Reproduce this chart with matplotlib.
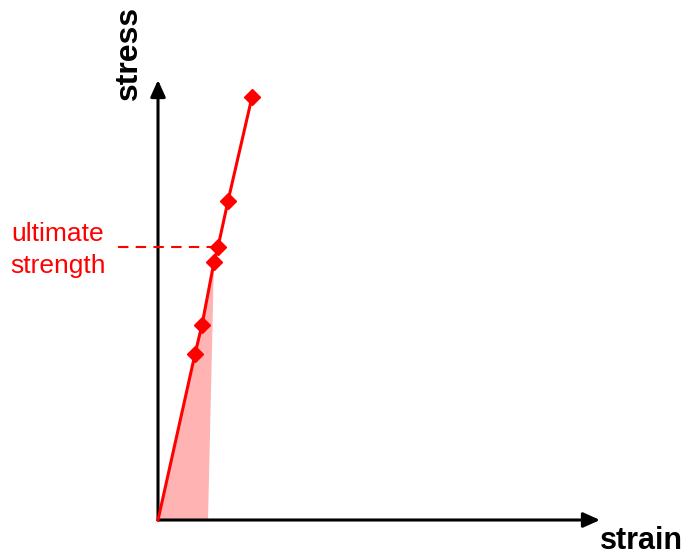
import matplotlib.pyplot as plt

plt.rcParams['font.family'] = ['Liberation Sans', 'DejaVu Sans']

# stress-strain curve (strain in %, stress in MPa)
strain = [0, 3.7, 4.4, 5.6, 6.0, 7.0, 9.4]
stress = [0, 166, 195, 258, 273, 319, 423]
marked = slice(1, None)
ultimate_idx = 4
fill_end = 5.0

fig = plt.figure(figsize=(6.89, 5.55), dpi=100)
ax = fig.add_axes([0, 0, 1, 1])
ax.set_xlim(-15.8, 53.1)
ax.set_ylim(-35, 520)
ax.axis('off')

# shaded area under initial part
ax.fill([strain[0], strain[3], fill_end], [stress[0], stress[3], 0],
        color='#ffb3b3', lw=0, zorder=1)

# axes arrows
arrow = dict(arrowstyle='-|>,head_length=1.0,head_width=0.45', lw=2.2,
             color='black', shrinkA=0, shrinkB=0)
ax.annotate('', xy=(44.2, 0), xytext=(0, 0), arrowprops=arrow, zorder=2)
ax.annotate('', xy=(0, 440), xytext=(0, 0), arrowprops=arrow, zorder=2)

ax.plot(strain, stress, color='red', lw=2.2, zorder=3)
ax.plot(strain[marked], stress[marked], ls='none', marker='D',
        ms=8.5, color='red', zorder=4)

# ultimate strength marker line
ax.plot([-4.0, strain[ultimate_idx]], [stress[ultimate_idx]] * 2,
        color='red', lw=1.5, ls=(0, (5, 3.5)), zorder=2)
ax.text(-10.0, 270, 'ultimate\nstrength', color='red',
        fontsize=19, ha='center', va='center', linespacing=1.4)

ax.text(44.2, -29, 'strain', fontsize=22, fontweight='bold',
        ha='left', va='baseline')
ax.text(-2.9, 467, 'stress', fontsize=23, fontweight='bold',
        rotation=90, ha='center', va='center')

fig.savefig('out.png', dpi=100)
